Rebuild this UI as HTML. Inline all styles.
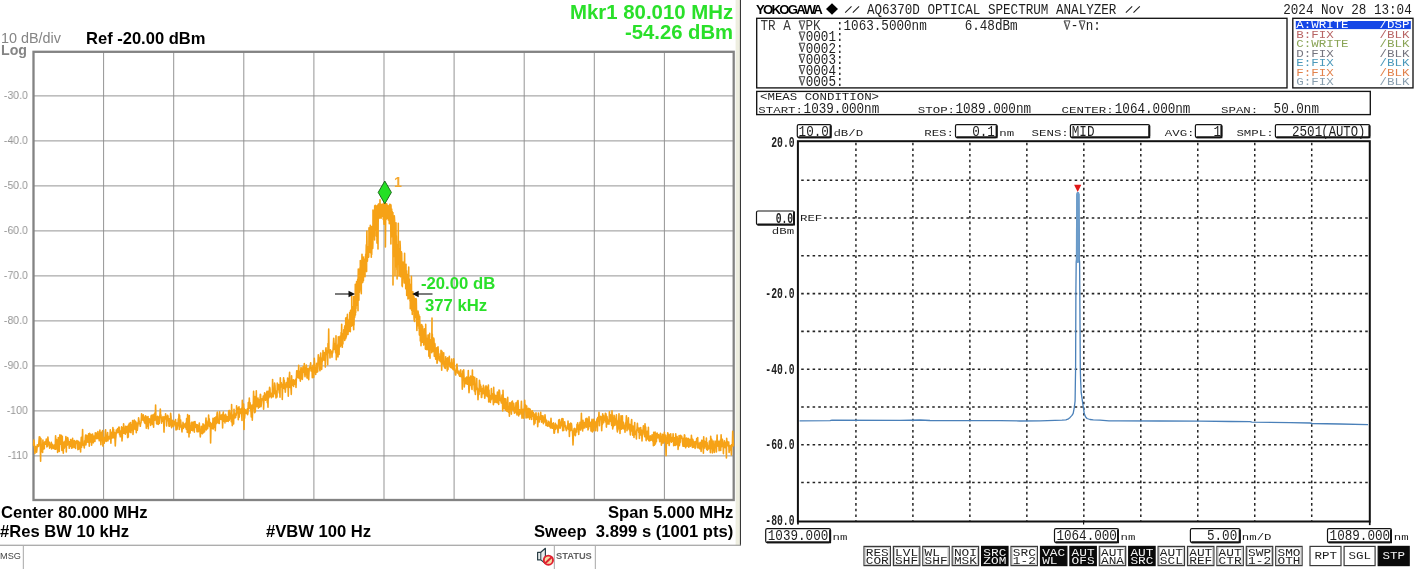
<!DOCTYPE html>
<html><head><meta charset="utf-8"><title>Spectrum analyzers</title>
<style>
html,body{margin:0;padding:0;background:#fff;}
body{width:1418px;height:569px;position:relative;overflow:hidden;font-family:"Liberation Sans",sans-serif;}
svg{position:absolute;left:0;top:0;will-change:transform;}
svg text{font-family:"Liberation Mono",monospace;font-size:10px;}
.t{position:absolute;will-change:transform;white-space:nowrap;line-height:1.15;font-family:"Liberation Sans",sans-serif;}
</style></head><body>
<svg width="1418" height="569" viewBox="0 0 1418 569">
<line x1="103.60" y1="52" x2="103.60" y2="499" stroke="#8e8e8e" stroke-width="0.95"/>
<line x1="34" y1="95.90" x2="733" y2="95.90" stroke="#8e8e8e" stroke-width="0.95"/>
<line x1="173.70" y1="52" x2="173.70" y2="499" stroke="#8e8e8e" stroke-width="0.95"/>
<line x1="34" y1="140.90" x2="733" y2="140.90" stroke="#8e8e8e" stroke-width="0.95"/>
<line x1="243.80" y1="52" x2="243.80" y2="499" stroke="#8e8e8e" stroke-width="0.95"/>
<line x1="34" y1="185.90" x2="733" y2="185.90" stroke="#8e8e8e" stroke-width="0.95"/>
<line x1="313.90" y1="52" x2="313.90" y2="499" stroke="#8e8e8e" stroke-width="0.95"/>
<line x1="34" y1="230.90" x2="733" y2="230.90" stroke="#8e8e8e" stroke-width="0.95"/>
<line x1="384.00" y1="52" x2="384.00" y2="499" stroke="#8e8e8e" stroke-width="0.95"/>
<line x1="34" y1="275.90" x2="733" y2="275.90" stroke="#8e8e8e" stroke-width="0.95"/>
<line x1="454.10" y1="52" x2="454.10" y2="499" stroke="#8e8e8e" stroke-width="0.95"/>
<line x1="34" y1="320.90" x2="733" y2="320.90" stroke="#8e8e8e" stroke-width="0.95"/>
<line x1="524.20" y1="52" x2="524.20" y2="499" stroke="#8e8e8e" stroke-width="0.95"/>
<line x1="34" y1="365.90" x2="733" y2="365.90" stroke="#8e8e8e" stroke-width="0.95"/>
<line x1="594.30" y1="52" x2="594.30" y2="499" stroke="#8e8e8e" stroke-width="0.95"/>
<line x1="34" y1="410.90" x2="733" y2="410.90" stroke="#8e8e8e" stroke-width="0.95"/>
<line x1="664.40" y1="52" x2="664.40" y2="499" stroke="#8e8e8e" stroke-width="0.95"/>
<line x1="34" y1="455.90" x2="733" y2="455.90" stroke="#8e8e8e" stroke-width="0.95"/>
<rect x="33.5" y="51.8" width="700.2" height="448.2" fill="none" stroke="#838383" stroke-width="2.3"/>
<polyline points="33.6,445.3 33.9,440.1 34.3,444.6 34.6,448.7 34.9,453.4 35.3,448.4 35.6,446.5 35.9,450.0 36.3,449.5 36.6,452.1 36.9,449.6 37.3,444.8 37.6,446.3 37.9,446.1 38.3,446.5 38.6,446.0 38.9,442.2 39.3,436.8 39.6,442.6 39.9,437.1 40.3,445.5 40.6,461.2 40.9,438.5 41.3,447.8 41.6,448.5 41.9,445.4 42.3,451.9 42.6,452.5 42.9,440.1 43.3,449.1 43.6,446.8 43.9,446.6 44.3,448.7 44.6,442.0 44.9,442.3 45.3,441.5 45.6,441.7 45.9,444.3 46.3,439.0 46.6,440.5 46.9,447.0 47.3,444.4 47.6,446.3 47.9,437.0 48.3,441.3 48.6,442.5 48.9,444.6 49.3,442.2 49.6,448.3 49.9,444.1 50.3,444.5 50.6,444.6 50.9,447.2 51.3,442.4 51.6,448.9 51.9,446.1 52.3,444.9 52.6,444.4 52.9,446.2 53.3,448.4 53.6,448.0 53.9,445.7 54.3,447.7 54.6,444.7 54.9,449.2 55.3,444.0 55.6,435.7 55.9,449.3 56.3,444.6 56.6,439.5 56.9,443.2 57.3,440.6 57.6,452.4 57.9,445.9 58.3,437.5 58.6,446.0 58.9,442.3 59.3,451.5 59.6,439.6 59.9,434.8 60.3,444.1 60.6,442.4 60.9,442.1 61.3,435.2 61.6,445.5 61.9,450.5 62.3,436.2 62.6,448.5 62.9,441.5 63.3,453.2 63.6,445.5 63.9,443.0 64.3,448.2 64.6,445.9 64.9,441.4 65.3,446.6 65.6,441.8 65.9,436.6 66.3,451.9 66.6,442.4 66.9,441.4 67.3,445.2 67.6,437.6 67.9,438.4 68.3,441.8 68.6,441.7 68.9,444.1 69.3,448.3 69.6,441.9 69.9,445.8 70.3,446.2 70.6,439.5 70.9,444.7 71.3,440.0 71.6,448.1 71.9,445.6 72.3,443.9 72.6,438.4 72.9,447.6 73.3,440.7 73.6,446.6 73.9,443.3 74.3,440.6 74.6,447.5 74.9,446.7 75.3,441.2 75.6,448.4 75.9,442.0 76.3,442.6 76.6,443.5 76.9,440.5 77.3,441.1 77.6,442.3 77.9,449.6 78.3,448.4 78.6,441.2 78.9,449.1 79.3,442.4 79.6,444.0 79.9,446.2 80.3,443.0 80.6,452.0 80.9,443.0 81.3,437.4 81.6,447.3 81.9,440.9 82.3,439.9 82.6,429.6 82.9,445.1 83.3,444.6 83.6,444.7 83.9,445.1 84.3,448.0 84.6,440.7 84.9,444.7 85.3,437.8 85.6,435.0 85.9,445.0 86.3,441.4 86.6,435.2 86.9,442.0 87.3,439.3 87.6,436.2 87.9,442.2 88.3,438.3 88.6,433.7 88.9,435.8 89.3,446.3 89.6,433.4 89.9,440.2 90.3,441.9 90.6,441.5 90.9,434.3 91.3,437.7 91.6,445.1 91.9,442.4 92.3,435.7 92.6,434.1 92.9,442.4 93.3,442.8 93.6,440.0 93.9,436.0 94.3,439.6 94.6,438.6 94.9,441.4 95.3,432.9 95.6,437.9 95.9,436.8 96.3,433.0 96.6,438.6 96.9,438.0 97.3,435.4 97.6,438.5 97.9,431.5 98.3,436.7 98.6,438.5 98.9,437.8 99.3,440.8 99.6,433.8 99.9,430.1 100.3,437.9 100.6,438.0 100.9,444.7 101.3,438.4 101.6,432.2 101.9,438.9 102.3,433.5 102.6,430.5 102.9,446.1 103.3,437.4 103.6,438.6 103.9,437.7 104.3,443.2 104.6,437.2 104.9,440.3 105.3,431.3 105.6,429.8 105.9,441.0 106.3,441.3 106.6,437.5 106.9,436.0 107.3,435.9 107.6,432.6 107.9,441.0 108.3,437.5 108.6,436.7 108.9,436.5 109.3,439.0 109.6,436.9 109.9,437.7 110.3,429.8 110.6,436.7 110.9,443.1 111.3,432.2 111.6,433.3 111.9,438.1 112.3,437.8 112.6,436.6 112.9,427.6 113.3,436.3 113.6,429.3 113.9,438.0 114.3,436.0 114.6,432.5 114.9,437.0 115.3,446.0 115.6,439.5 115.9,436.9 116.3,430.0 116.6,433.4 116.9,429.8 117.3,431.3 117.6,428.6 117.9,430.5 118.3,432.5 118.6,429.2 118.9,427.0 119.3,427.4 119.6,434.7 119.9,433.1 120.3,436.8 120.6,436.4 120.9,430.8 121.3,434.9 121.6,426.9 122.0,441.0 122.3,437.0 122.6,430.4 123.0,427.6 123.3,433.1 123.6,423.8 124.0,428.7 124.3,433.3 124.6,430.6 125.0,429.1 125.3,434.2 125.6,426.2 126.0,432.8 126.3,428.1 126.6,426.7 127.0,431.9 127.3,426.4 127.6,437.6 128.0,427.3 128.3,437.1 128.6,424.7 129.0,431.7 129.3,423.4 129.6,423.7 130.0,429.7 130.3,432.3 130.6,422.6 131.0,432.8 131.3,424.6 131.6,428.4 132.0,429.5 132.3,430.2 132.6,420.5 133.0,434.4 133.3,429.8 133.6,424.8 134.0,422.7 134.3,420.1 134.6,421.6 135.0,429.4 135.3,423.9 135.6,421.3 136.0,423.9 136.3,432.7 136.6,425.2 137.0,423.1 137.3,430.3 137.6,427.3 138.0,425.2 138.3,422.3 138.6,417.9 139.0,420.6 139.3,422.2 139.6,423.5 140.0,424.4 140.3,426.3 140.6,423.6 141.0,422.7 141.3,418.7 141.6,413.9 142.0,419.9 142.3,418.0 142.6,419.9 143.0,420.1 143.3,414.9 143.6,416.7 144.0,420.7 144.3,422.1 144.6,417.5 145.0,423.4 145.3,420.0 145.6,415.8 146.0,420.6 146.3,428.2 146.6,417.1 147.0,425.1 147.3,426.0 147.6,426.3 148.0,416.6 148.3,428.7 148.6,420.6 149.0,418.9 149.3,418.8 149.6,422.4 150.0,420.2 150.3,419.2 150.6,425.4 151.0,416.7 151.3,415.3 151.6,423.2 152.0,422.7 152.3,424.4 152.6,415.1 153.0,424.3 153.3,421.7 153.6,427.1 154.0,414.3 154.3,420.4 154.6,418.3 155.0,412.8 155.3,416.5 155.6,405.0 156.0,420.7 156.3,416.7 156.6,423.6 157.0,424.0 157.3,423.8 157.6,416.4 158.0,419.5 158.3,424.5 158.6,417.5 159.0,416.9 159.3,423.5 159.6,416.2 160.0,415.2 160.3,409.0 160.6,413.9 161.0,416.0 161.3,419.6 161.6,423.2 162.0,420.0 162.3,417.7 162.6,421.1 163.0,416.5 163.3,420.4 163.6,417.9 164.0,432.1 164.3,424.0 164.6,417.0 165.0,416.7 165.3,419.0 165.6,413.9 166.0,418.0 166.3,417.6 166.6,425.9 167.0,419.3 167.3,417.9 167.6,415.4 168.0,416.4 168.3,421.0 168.6,420.2 169.0,426.1 169.3,418.9 169.6,426.1 170.0,422.3 170.3,421.8 170.6,413.2 171.0,416.5 171.3,424.8 171.6,427.6 172.0,422.5 172.3,426.1 172.6,420.2 173.0,421.1 173.3,423.3 173.6,426.5 174.0,423.3 174.3,421.4 174.6,421.6 175.0,424.6 175.3,424.6 175.6,419.5 176.0,429.9 176.3,424.0 176.6,423.1 177.0,429.5 177.3,427.6 177.6,422.9 178.0,425.8 178.3,418.8 178.6,420.7 179.0,414.4 179.3,429.5 179.6,415.6 180.0,427.1 180.3,420.6 180.6,420.0 181.0,424.1 181.3,425.6 181.6,427.9 182.0,432.0 182.3,426.6 182.6,428.7 183.0,422.4 183.3,428.5 183.6,426.0 184.0,423.8 184.3,425.2 184.6,425.0 185.0,426.5 185.3,427.5 185.6,424.0 186.0,422.7 186.3,429.1 186.6,418.6 187.0,423.7 187.3,432.4 187.6,414.6 188.0,423.4 188.3,429.4 188.6,419.2 189.0,437.0 189.3,415.6 189.6,432.3 190.0,433.1 190.3,430.3 190.6,425.6 191.0,428.3 191.3,422.9 191.6,430.3 192.0,422.1 192.3,425.6 192.6,430.8 193.0,422.8 193.3,425.6 193.6,425.8 194.0,421.7 194.3,432.1 194.6,427.4 195.0,421.5 195.3,427.1 195.6,424.0 196.0,424.6 196.3,427.7 196.6,424.9 197.0,431.8 197.3,424.7 197.6,431.6 198.0,427.6 198.3,431.7 198.6,425.2 199.0,426.1 199.3,423.1 199.6,430.3 200.0,431.8 200.3,436.9 200.6,433.4 201.0,433.3 201.3,426.3 201.6,428.9 202.0,427.6 202.3,433.8 202.6,432.0 203.0,423.9 203.3,424.3 203.6,432.6 204.0,428.2 204.3,426.2 204.6,431.6 205.0,424.9 205.3,424.7 205.6,423.6 206.0,418.1 206.3,430.0 206.6,420.9 207.0,423.7 207.3,422.9 207.6,428.7 208.0,425.6 208.3,425.2 208.6,415.0 209.0,424.7 209.3,418.9 209.6,426.5 210.0,426.7 210.3,422.6 210.6,443.0 211.0,426.5 211.3,426.8 211.6,425.4 212.0,423.2 212.3,428.6 212.6,428.7 213.0,418.3 213.3,428.9 213.6,425.5 214.0,427.2 214.3,425.1 214.6,417.9 215.0,418.0 215.3,430.8 215.6,423.7 216.0,416.7 216.3,423.7 216.6,421.2 217.0,414.1 217.3,412.1 217.6,415.0 218.0,423.0 218.3,421.0 218.6,421.1 219.0,422.2 219.3,423.5 219.6,411.8 220.0,419.3 220.3,417.5 220.6,415.4 221.0,417.8 221.3,419.5 221.6,418.9 222.0,414.5 222.3,417.5 222.6,427.9 223.0,414.6 223.3,412.1 223.6,421.3 224.0,421.3 224.3,421.2 224.6,415.4 225.0,422.9 225.3,416.0 225.6,414.3 226.0,416.1 226.3,417.1 226.6,421.4 227.0,420.5 227.3,416.8 227.6,420.9 228.0,417.9 228.3,421.4 228.6,411.8 229.0,410.6 229.3,420.1 229.6,410.5 230.0,415.3 230.3,415.6 230.6,418.7 231.0,414.3 231.3,421.8 231.6,404.6 232.0,419.2 232.3,425.6 232.6,415.8 233.0,415.1 233.3,419.0 233.6,424.0 234.0,409.4 234.3,415.2 234.6,413.7 235.0,417.9 235.3,415.3 235.6,417.5 236.0,412.7 236.3,415.3 236.6,405.7 237.0,410.3 237.3,412.7 237.6,413.1 238.0,408.1 238.3,419.7 238.6,413.8 239.0,406.7 239.3,417.3 239.6,408.8 240.0,413.6 240.3,411.4 240.6,413.0 241.0,412.4 241.3,408.6 241.6,412.0 242.0,420.5 242.3,400.4 242.6,409.9 243.0,412.8 243.3,405.8 243.6,404.0 244.0,429.4 244.3,408.3 244.6,418.3 245.0,412.7 245.3,409.9 245.6,411.5 246.0,411.4 246.3,413.5 246.6,411.7 247.0,409.8 247.3,408.9 247.6,414.7 248.0,412.7 248.3,402.5 248.6,404.3 249.0,408.6 249.3,398.0 249.6,407.2 250.0,402.6 250.3,404.8 250.6,409.0 251.0,411.4 251.3,417.0 251.6,416.0 252.0,405.1 252.3,420.3 252.6,410.7 253.0,407.6 253.3,403.0 253.6,391.3 254.0,404.5 254.3,405.7 254.6,412.7 255.0,396.5 255.3,411.9 255.6,402.8 256.0,407.1 256.3,390.8 256.6,404.2 257.0,402.3 257.3,406.3 257.6,403.1 258.0,398.0 258.3,408.1 258.6,399.6 259.0,404.3 259.3,407.2 259.6,406.9 260.0,401.1 260.3,394.2 260.6,394.7 261.0,406.6 261.3,404.6 261.6,401.0 262.0,398.8 262.3,398.9 262.6,399.6 263.0,398.3 263.3,396.0 263.6,409.3 264.0,399.0 264.3,396.8 264.6,392.7 265.0,394.7 265.3,398.9 265.6,400.2 266.0,396.1 266.3,396.5 266.6,393.4 267.0,391.2 267.3,402.8 267.6,396.7 268.0,407.3 268.3,391.2 268.6,395.0 269.0,397.6 269.3,392.1 269.6,387.2 270.0,389.0 270.3,396.2 270.6,394.9 271.0,393.2 271.3,397.8 271.6,397.4 272.0,394.7 272.3,394.2 272.6,379.5 273.0,395.4 273.3,396.7 273.6,392.5 274.0,393.9 274.3,391.5 274.6,383.0 275.0,385.6 275.3,393.4 275.6,390.9 276.0,398.0 276.3,391.6 276.6,394.6 277.0,397.0 277.3,383.1 277.6,385.1 278.0,389.4 278.3,388.8 278.6,384.6 279.0,390.2 279.3,393.0 279.6,385.4 280.0,397.3 280.3,377.8 280.6,386.4 281.0,386.8 281.3,382.9 281.6,386.8 282.0,384.4 282.3,399.5 282.6,388.0 283.0,388.6 283.3,382.7 283.6,377.7 284.0,384.2 284.3,380.3 284.6,388.9 285.0,384.1 285.3,392.3 285.6,388.1 286.0,387.8 286.3,382.6 286.6,385.3 287.0,386.1 287.3,386.8 287.6,378.0 288.0,385.3 288.3,396.3 288.6,380.5 289.0,379.9 289.3,377.5 289.6,372.3 290.0,387.5 290.3,380.9 290.6,382.3 291.0,388.8 291.3,394.4 291.6,375.7 292.0,385.5 292.3,382.2 292.6,380.9 293.0,380.5 293.3,379.8 293.6,386.4 294.0,381.9 294.3,380.5 294.6,384.2 295.0,383.2 295.3,381.5 295.6,379.4 296.0,387.5 296.3,380.2 296.7,370.8 297.0,371.9 297.3,373.5 297.7,370.8 298.0,377.7 298.3,377.7 298.7,365.4 299.0,376.4 299.3,378.4 299.7,376.4 300.0,371.2 300.3,381.1 300.7,370.9 301.0,367.6 301.3,368.4 301.7,373.7 302.0,379.2 302.3,379.4 302.7,374.6 303.0,366.9 303.3,369.6 303.7,369.2 304.0,372.2 304.3,363.5 304.7,373.3 305.0,376.8 305.3,370.8 305.7,374.8 306.0,367.8 306.3,365.1 306.7,368.6 307.0,378.0 307.3,377.5 307.7,368.9 308.0,378.1 308.3,369.1 308.7,379.6 309.0,373.5 309.3,367.7 309.7,368.0 310.0,366.8 310.3,365.4 310.7,362.7 311.0,371.0 311.3,370.2 311.7,369.5 312.0,367.3 312.3,377.7 312.7,367.5 313.0,365.4 313.3,376.8 313.7,377.3 314.0,370.5 314.3,358.2 314.7,364.5 315.0,372.5 315.3,367.6 315.7,374.4 316.0,368.3 316.3,369.9 316.7,363.3 317.0,372.1 317.3,365.3 317.7,371.8 318.0,361.8 318.3,354.7 318.7,357.4 319.0,358.9 319.3,358.1 319.7,368.6 320.0,370.8 320.3,364.1 320.7,353.0 321.0,360.2 321.3,358.1 321.7,369.4 322.0,362.1 322.3,361.3 322.7,358.5 323.0,350.6 323.3,355.2 323.7,352.5 324.0,360.2 324.3,356.5 324.7,352.5 325.0,353.7 325.3,367.1 325.7,349.6 326.0,347.9 326.3,353.0 326.7,350.7 327.0,351.9 327.3,355.6 327.7,364.8 328.0,343.5 328.3,352.8 328.7,329.0 329.0,352.6 329.3,351.5 329.7,350.8 330.0,358.0 330.3,349.7 330.7,352.0 331.0,352.0 331.3,352.0 331.7,351.3 332.0,357.3 332.3,351.0 332.7,352.8 333.0,350.7 333.3,345.9 333.7,338.4 334.0,342.2 334.3,349.2 334.7,346.4 335.0,343.9 335.3,350.1 335.7,352.8 336.0,335.8 336.3,359.8 336.7,345.7 337.0,347.2 337.3,349.1 337.7,346.0 338.0,343.9 338.0,356.9 338.3,336.8 338.3,344.0 338.6,347.6 338.7,339.4 338.9,348.8 339.0,342.9 339.1,354.4 339.3,337.1 339.4,341.8 339.7,342.6 339.7,343.3 340.0,336.2 340.0,343.8 340.3,338.2 340.3,346.6 340.6,343.4 340.7,345.2 340.9,344.5 341.0,338.0 341.1,332.6 341.3,341.0 341.4,340.1 341.7,324.2 341.7,335.8 342.0,333.5 342.0,345.0 342.3,347.3 342.3,335.8 342.6,337.8 342.7,334.9 342.9,344.0 343.0,339.1 343.1,335.7 343.3,333.8 343.4,336.8 343.7,329.8 343.7,335.9 344.0,329.6 344.0,335.1 344.3,331.7 344.3,338.4 344.6,327.0 344.7,340.4 344.9,325.7 345.0,336.5 345.1,325.8 345.3,328.2 345.4,336.4 345.7,338.7 345.7,318.1 346.0,330.2 346.0,320.1 346.3,337.1 346.3,317.6 346.6,321.8 346.7,320.2 346.9,334.8 347.0,327.1 347.1,326.8 347.3,328.0 347.4,314.4 347.7,325.9 347.7,333.5 348.0,324.0 348.0,334.5 348.3,326.6 348.3,330.7 348.6,322.9 348.7,325.0 348.9,331.5 349.0,326.5 349.1,321.2 349.3,319.7 349.4,319.1 349.7,328.8 349.7,312.5 350.0,317.8 350.0,322.0 350.3,319.3 350.3,331.7 350.6,310.3 350.7,318.7 350.9,325.2 351.0,311.6 351.1,318.4 351.3,319.9 351.4,326.2 351.7,314.3 351.7,296.0 352.0,321.3 352.0,313.9 352.3,309.9 352.3,306.5 352.6,325.4 352.7,313.0 352.9,321.3 353.0,314.5 353.1,313.6 353.3,318.4 353.4,323.1 353.7,329.8 353.7,296.5 354.0,310.2 354.0,325.3 354.3,309.1 354.3,298.0 354.6,316.9 354.7,317.3 354.9,314.3 355.0,315.6 355.1,312.1 355.3,284.3 355.4,314.9 355.7,288.8 355.7,312.5 356.0,293.9 356.0,308.7 356.3,298.8 356.3,289.9 356.6,281.6 356.7,294.5 356.9,297.9 357.0,305.3 357.1,296.2 357.3,300.3 357.4,282.2 357.7,286.9 357.7,279.2 358.0,310.8 358.0,289.3 358.3,269.1 358.3,278.4 358.6,293.5 358.7,291.4 358.9,300.2 359.0,273.6 359.1,271.5 359.3,269.4 359.4,292.4 359.7,289.2 359.7,277.6 360.0,267.8 360.0,273.1 360.3,276.8 360.3,260.6 360.6,272.5 360.7,277.4 360.9,288.3 361.0,288.7 361.1,274.2 361.3,293.7 361.4,265.9 361.7,278.8 361.7,270.5 362.0,254.2 362.0,263.8 362.3,276.9 362.3,262.8 362.6,267.1 362.7,282.6 362.9,271.6 363.0,266.3 363.1,264.1 363.3,257.1 363.4,280.8 363.7,260.1 363.7,268.6 364.0,269.2 364.0,259.4 364.3,260.0 364.3,259.4 364.6,260.2 364.7,266.9 364.9,260.2 365.0,276.7 365.1,260.5 365.3,261.8 365.4,256.3 365.7,256.8 365.7,254.3 366.0,258.6 366.0,256.8 366.3,244.7 366.3,247.4 366.6,271.6 366.7,245.7 366.9,231.1 367.0,241.0 367.1,254.0 367.3,259.0 367.4,261.3 367.7,249.7 367.7,250.0 368.0,246.7 368.0,255.3 368.3,249.4 368.3,253.3 368.6,254.0 368.7,257.1 368.9,244.5 369.0,227.9 369.1,243.2 369.3,243.7 369.4,242.1 369.7,242.7 369.7,242.5 370.0,250.7 370.0,237.6 370.3,252.6 370.3,225.4 370.6,238.1 370.7,248.6 370.9,239.1 371.0,238.7 371.1,236.4 371.3,257.2 371.4,226.5 371.7,252.1 371.7,254.4 372.0,240.4 372.0,244.8 372.3,232.0 372.3,227.8 372.6,226.2 372.7,248.5 372.9,242.8 373.0,210.0 373.1,224.0 373.3,229.3 373.4,217.5 373.7,211.0 373.7,213.8 374.0,222.2 374.0,213.6 374.3,212.4 374.3,225.4 374.6,240.0 374.7,205.8 374.9,230.7 375.0,230.2 375.1,212.7 375.3,205.3 375.4,225.8 375.7,221.6 375.7,229.0 376.0,212.6 376.0,209.1 376.3,212.7 376.3,236.1 376.6,230.0 376.7,214.6 376.9,205.9 377.0,243.1 377.1,217.9 377.3,214.6 377.4,209.5 377.7,205.4 377.7,213.5 378.0,207.0 378.0,249.0 378.3,204.3 378.3,204.6 378.6,218.8 378.7,208.4 378.9,203.9 379.0,208.8 379.1,209.4 379.3,204.2 379.4,204.8 379.7,205.2 379.7,217.9 380.0,199.7 380.0,206.6 380.3,205.6 380.3,205.6 380.6,212.5 380.7,204.1 380.9,209.0 381.0,204.8 381.1,218.3 381.3,208.5 381.4,213.7 381.7,216.6 381.7,204.6 382.0,213.4 382.0,207.2 382.3,206.1 382.3,209.8 382.6,205.3 382.7,212.7 382.9,208.0 383.0,210.2 383.1,203.8 383.3,219.6 383.4,203.5 383.7,212.8 383.7,214.1 384.0,224.2 384.0,210.3 384.3,211.2 384.3,204.9 384.6,212.1 384.7,209.0 384.9,208.0 385.0,206.1 385.1,204.1 385.3,203.7 385.4,247.0 385.7,215.5 385.7,204.6 386.0,203.8 386.0,215.7 386.3,204.5 386.3,219.3 386.6,208.4 386.7,203.8 386.9,214.1 387.0,218.2 387.1,204.9 387.3,217.9 387.4,206.9 387.7,215.8 387.7,206.0 388.0,205.8 388.0,210.9 388.3,214.4 388.3,219.9 388.6,217.6 388.7,217.3 388.9,208.1 389.0,205.7 389.1,210.1 389.3,223.8 389.4,207.6 389.7,204.2 389.7,209.4 390.0,217.2 390.0,222.7 390.3,215.0 390.3,215.5 390.6,211.9 390.7,204.6 390.9,244.0 391.0,205.6 391.1,216.5 391.3,217.2 391.4,237.0 391.7,209.1 391.7,228.2 392.0,214.4 392.0,211.3 392.3,212.3 392.3,224.2 392.6,212.9 392.7,228.1 392.9,212.6 393.0,285.0 393.1,219.9 393.3,243.8 393.4,228.8 393.7,224.9 393.7,244.5 394.0,255.5 394.0,256.4 394.3,241.6 394.3,215.8 394.6,220.2 394.7,248.2 394.9,250.3 395.0,275.8 395.1,260.4 395.3,258.2 395.4,259.4 395.7,253.7 395.7,237.5 396.0,224.8 396.0,222.9 396.3,266.8 396.3,235.9 396.6,262.8 396.7,248.4 396.9,269.8 397.0,254.0 397.1,279.0 397.3,244.7 397.4,253.1 397.7,263.4 397.7,248.2 398.0,256.9 398.0,263.7 398.3,223.2 398.3,261.0 398.6,255.4 398.7,253.6 398.9,267.5 399.0,276.0 399.1,259.1 399.3,248.8 399.4,263.7 399.7,270.9 399.7,256.8 400.0,267.8 400.0,241.3 400.3,247.9 400.3,255.2 400.6,276.7 400.7,263.6 400.9,268.8 401.0,263.6 401.1,272.4 401.3,271.3 401.4,251.7 401.7,267.4 401.7,253.0 402.0,275.5 402.0,285.8 402.3,265.8 402.3,286.6 402.6,279.5 402.7,269.5 402.9,272.2 403.0,262.0 403.1,267.6 403.3,271.8 403.4,271.6 403.7,278.3 403.7,277.1 404.0,272.1 404.0,264.2 404.3,282.9 404.3,272.4 404.6,253.3 404.7,265.6 404.9,273.8 405.0,272.2 405.1,268.4 405.3,267.7 405.4,276.0 405.7,285.5 405.7,288.5 406.0,264.2 406.0,272.4 406.3,289.5 406.3,277.2 406.6,270.8 406.7,295.5 406.9,277.1 407.0,278.9 407.1,278.5 407.3,293.0 407.4,292.2 407.7,274.5 407.7,277.3 408.0,282.1 408.0,299.0 408.3,286.1 408.3,298.6 408.6,289.4 408.7,267.1 408.9,295.8 409.0,292.1 409.1,287.4 409.3,279.0 409.4,292.7 409.7,298.4 409.7,291.9 410.0,286.6 410.0,301.1 410.3,284.5 410.3,308.7 410.6,296.9 410.7,298.4 410.9,285.3 411.0,290.1 411.1,302.7 411.3,292.1 411.4,276.4 411.7,310.6 411.7,295.1 412.0,311.0 412.0,298.2 412.3,314.4 412.3,305.4 412.6,311.4 412.7,304.1 412.9,291.9 413.0,300.4 413.1,302.4 413.3,294.9 413.4,309.3 413.7,296.4 413.7,304.0 414.0,297.0 414.0,317.1 414.3,321.0 414.3,318.5 414.6,321.5 414.7,307.5 414.9,307.1 415.0,311.1 415.1,301.8 415.3,312.3 415.4,298.9 415.7,317.5 415.7,317.5 416.0,298.6 416.0,308.4 416.3,299.5 416.3,299.9 416.6,314.3 416.7,322.7 416.9,330.4 417.0,325.8 417.1,319.9 417.3,319.0 417.4,323.6 417.7,325.8 417.7,320.8 418.0,324.3 418.0,311.0 418.3,313.6 418.3,318.6 418.6,316.2 418.7,318.2 418.9,314.8 419.0,328.7 419.1,327.1 419.3,330.2 419.4,335.1 419.7,316.5 419.7,320.5 420.0,324.4 420.0,328.8 420.3,331.8 420.3,340.9 420.6,326.9 420.7,329.3 420.9,325.7 421.0,345.7 421.1,328.8 421.3,325.1 421.4,337.1 421.7,334.2 421.7,324.6 422.0,332.6 422.0,342.4 422.3,327.4 422.3,337.7 422.6,326.3 422.7,334.5 422.9,340.2 423.0,342.1 423.1,337.3 423.3,333.1 423.4,336.0 423.7,331.6 423.7,345.1 424.0,332.5 424.0,342.0 424.3,328.9 424.3,336.7 424.6,331.0 424.7,341.3 424.9,336.6 425.0,341.1 425.1,334.5 425.3,339.2 425.4,349.1 425.7,333.7 425.7,324.4 426.0,344.4 426.0,334.7 426.3,340.6 426.3,349.5 426.6,338.5 426.7,347.4 426.9,338.7 427.0,349.6 427.1,348.8 427.3,338.9 427.4,341.5 427.7,338.1 427.7,344.8 428.0,349.5 428.0,335.1 428.3,347.7 428.3,337.4 428.6,339.3 428.7,335.1 428.9,356.3 429.0,345.4 429.1,345.2 429.3,340.9 429.4,353.0 429.7,333.4 429.7,345.4 430.0,358.3 430.0,342.7 430.3,345.4 430.3,349.5 430.6,339.9 430.7,345.4 430.9,349.8 431.0,345.8 431.1,346.9 431.3,343.3 431.4,347.3 431.7,346.5 431.7,352.7 432.0,318.0 432.0,346.8 432.3,334.1 432.7,350.2 433.0,351.5 433.3,343.9 433.7,338.1 434.0,339.4 434.3,356.2 434.7,343.3 435.0,344.4 435.3,354.4 435.7,359.3 436.0,351.9 436.3,354.7 436.7,347.9 437.0,363.3 437.3,362.2 437.7,354.0 438.0,346.8 438.3,351.2 438.7,358.6 439.0,353.7 439.3,360.5 439.7,359.6 440.0,357.3 440.3,361.6 440.7,360.2 441.0,350.3 441.3,356.2 441.7,370.3 442.0,351.4 442.3,357.8 442.7,364.0 443.0,357.5 443.3,356.7 443.7,352.7 444.0,364.9 444.3,366.6 444.7,367.8 445.0,361.3 445.3,368.5 445.7,356.8 446.0,362.9 446.3,358.5 446.7,363.4 447.0,366.4 447.3,370.9 447.7,357.8 448.0,369.5 448.3,360.4 448.7,359.2 449.0,364.1 449.3,356.4 449.7,364.3 450.0,366.8 450.3,362.7 450.7,367.4 451.0,365.1 451.3,365.8 451.7,359.0 452.0,368.3 452.3,363.1 452.7,364.9 453.0,369.4 453.3,369.7 453.7,358.8 454.0,360.7 454.3,367.6 454.7,370.8 455.0,371.4 455.3,374.3 455.7,375.0 456.0,372.7 456.3,370.1 456.7,364.7 457.0,364.2 457.3,368.5 457.7,373.0 458.0,373.2 458.3,371.0 458.7,372.3 459.0,374.9 459.3,374.0 459.7,376.3 460.0,374.6 460.3,370.5 460.7,369.9 461.0,376.7 461.3,376.7 461.7,374.1 462.0,374.2 462.3,389.3 462.7,371.0 463.0,374.0 463.3,376.8 463.7,369.8 464.0,376.8 464.3,386.9 464.7,381.6 465.0,381.1 465.3,381.4 465.7,378.1 466.0,383.6 466.3,379.4 466.7,377.0 467.0,379.1 467.3,384.1 467.7,380.6 468.0,383.7 468.3,370.5 468.7,385.9 469.0,392.6 469.3,388.8 469.7,379.1 470.0,377.2 470.3,382.2 470.7,376.1 471.0,385.4 471.4,381.7 471.7,387.2 472.0,389.4 472.4,370.0 472.7,384.8 473.0,380.7 473.4,376.9 473.7,382.6 474.0,383.5 474.4,390.9 474.7,377.3 475.0,390.8 475.4,394.4 475.7,388.4 476.0,388.4 476.4,385.6 476.7,378.5 477.0,389.6 477.4,388.1 477.7,390.0 478.0,399.6 478.4,390.5 478.7,389.7 479.0,394.4 479.4,380.2 479.7,382.3 480.0,386.3 480.4,384.7 480.7,391.5 481.0,386.4 481.4,397.5 481.7,397.5 482.0,392.3 482.4,388.6 482.7,393.3 483.0,393.6 483.4,385.3 483.7,390.9 484.0,392.7 484.4,390.8 484.7,398.3 485.0,396.8 485.4,386.8 485.7,392.1 486.0,385.9 486.4,395.0 486.7,386.7 487.0,396.3 487.4,394.0 487.7,396.6 488.0,391.1 488.4,385.1 488.7,401.9 489.0,390.0 489.4,400.8 489.7,395.2 490.0,396.8 490.4,402.5 490.7,396.4 491.0,400.0 491.4,388.5 491.7,398.9 492.0,393.5 492.4,395.0 492.7,396.4 493.0,397.8 493.4,404.8 493.7,387.4 494.0,397.6 494.4,394.1 494.7,402.4 495.0,396.1 495.4,399.6 495.7,395.6 496.0,400.2 496.4,402.5 496.7,396.7 497.0,397.5 497.4,392.1 497.7,400.4 498.0,403.1 498.4,394.8 498.7,404.5 499.0,390.1 499.4,390.3 499.7,393.3 500.0,396.0 500.4,400.8 500.7,399.6 501.0,401.0 501.4,403.0 501.7,399.3 502.0,395.1 502.4,396.2 502.7,411.0 503.0,390.3 503.4,402.8 503.7,408.5 504.0,404.2 504.4,398.6 504.7,402.1 505.0,407.9 505.4,410.1 505.7,398.7 506.0,406.0 506.4,405.9 506.7,410.0 507.0,411.3 507.4,403.7 507.7,397.3 508.0,406.6 508.4,412.3 508.7,407.4 509.0,407.2 509.4,416.3 509.7,402.7 510.0,410.2 510.4,403.1 510.7,407.2 511.0,408.3 511.4,414.1 511.7,401.8 512.0,405.0 512.4,401.1 512.7,409.5 513.0,405.1 513.4,410.6 513.7,403.4 514.0,406.0 514.4,413.1 514.7,407.5 515.0,412.0 515.4,411.7 515.7,408.5 516.0,402.9 516.4,413.1 516.7,410.9 517.0,414.9 517.4,401.1 517.7,403.4 518.0,400.5 518.4,406.2 518.7,415.9 519.0,412.9 519.4,409.8 519.7,412.2 520.0,414.3 520.4,409.9 520.7,412.6 521.0,411.7 521.4,401.4 521.7,410.0 522.0,418.3 522.4,409.3 522.7,413.1 523.0,409.2 523.4,409.9 523.7,418.1 524.0,411.7 524.4,407.7 524.7,400.3 525.0,410.3 525.4,404.8 525.7,405.6 526.0,417.9 526.4,416.8 526.7,406.0 527.0,417.5 527.4,416.8 527.7,410.5 528.0,417.6 528.4,408.4 528.7,409.6 529.0,408.6 529.4,411.3 529.7,419.2 530.0,409.0 530.4,410.7 530.7,410.8 531.0,417.1 531.4,414.9 531.7,419.5 532.0,412.7 532.4,410.7 532.7,414.2 533.0,416.2 533.4,412.8 533.7,417.0 534.0,424.6 534.4,414.3 534.7,417.2 535.0,423.3 535.4,414.0 535.7,418.7 536.0,412.8 536.4,419.2 536.7,419.5 537.0,416.8 537.4,418.5 537.7,426.6 538.0,422.2 538.4,413.0 538.7,419.1 539.0,420.0 539.4,421.9 539.7,417.6 540.0,416.9 540.4,417.5 540.7,412.4 541.0,419.5 541.4,417.7 541.7,422.3 542.0,415.9 542.4,418.5 542.7,416.3 543.0,415.9 543.4,423.6 543.7,419.2 544.0,422.4 544.4,417.2 544.7,421.4 545.0,414.7 545.4,419.3 545.7,419.3 546.0,425.5 546.4,422.5 546.7,420.5 547.0,425.4 547.4,423.1 547.7,426.3 548.0,426.2 548.4,423.3 548.7,421.3 549.0,425.0 549.4,422.2 549.7,426.5 550.0,424.7 550.4,428.0 550.7,422.8 551.0,418.4 551.4,424.4 551.7,424.1 552.0,428.1 552.4,423.9 552.7,424.8 553.0,428.3 553.4,422.8 553.7,426.2 554.0,433.3 554.4,433.0 554.7,429.9 555.0,427.3 555.4,423.3 555.7,429.1 556.0,427.3 556.4,428.1 556.7,425.1 557.0,426.5 557.4,426.1 557.7,428.2 558.0,432.7 558.4,427.8 558.7,420.0 559.0,422.5 559.4,419.6 559.7,423.0 560.0,428.2 560.4,427.7 560.7,422.1 561.0,425.9 561.4,421.9 561.7,419.3 562.0,418.5 562.4,421.1 562.7,430.7 563.0,418.9 563.4,429.5 563.7,430.5 564.0,423.5 564.4,426.0 564.7,421.8 565.0,425.3 565.4,426.9 565.7,427.1 566.0,429.3 566.4,430.6 566.7,428.4 567.0,428.9 567.4,425.2 567.7,428.0 568.0,421.1 568.4,429.2 568.7,428.4 569.0,424.1 569.4,436.4 569.7,424.1 570.0,424.5 570.4,430.7 570.7,423.0 571.0,426.5 571.4,423.6 571.7,425.8 572.0,430.3 572.4,431.0 572.7,435.3 573.0,445.0 573.4,435.3 573.7,433.1 574.0,428.8 574.4,434.7 574.7,428.4 575.0,428.6 575.4,435.7 575.7,432.7 576.0,430.5 576.4,431.8 576.7,432.0 577.0,424.2 577.4,428.9 577.7,422.8 578.0,428.0 578.4,426.0 578.7,434.4 579.0,430.4 579.4,424.7 579.7,428.5 580.0,422.3 580.4,428.2 580.7,430.0 581.0,427.3 581.4,413.3 581.7,425.1 582.0,428.0 582.4,426.8 582.7,430.9 583.0,420.3 583.4,428.2 583.7,422.2 584.0,426.0 584.4,427.4 584.7,428.0 585.0,422.4 585.4,425.6 585.7,419.4 586.0,418.5 586.4,427.2 586.7,424.4 587.0,418.2 587.4,420.8 587.7,419.8 588.0,429.9 588.4,428.5 588.7,428.1 589.0,416.7 589.4,423.5 589.7,426.2 590.0,425.7 590.4,425.5 590.7,422.4 591.0,430.9 591.4,429.8 591.7,422.6 592.0,419.2 592.4,431.9 592.7,421.1 593.0,428.2 593.4,430.7 593.7,419.3 594.0,419.7 594.4,420.8 594.7,424.7 595.0,423.6 595.4,430.8 595.7,424.3 596.0,421.7 596.4,426.7 596.7,421.3 597.0,418.8 597.4,431.0 597.7,417.6 598.0,419.4 598.4,421.3 598.7,417.1 599.0,412.4 599.4,425.7 599.7,417.7 600.0,419.2 600.4,419.1 600.7,416.3 601.0,416.6 601.4,421.8 601.7,430.8 602.0,423.9 602.4,424.4 602.7,413.7 603.0,420.1 603.4,415.3 603.7,422.8 604.0,419.0 604.4,420.3 604.7,419.4 605.0,417.6 605.4,413.4 605.7,422.0 606.0,413.7 606.4,427.1 606.7,418.5 607.0,416.5 607.4,420.8 607.7,424.0 608.0,420.8 608.4,421.0 608.7,419.9 609.0,424.2 609.4,411.7 609.7,421.5 610.0,415.7 610.4,414.9 610.7,420.6 611.0,419.3 611.4,422.8 611.7,425.4 612.0,410.7 612.4,420.3 612.7,428.9 613.0,424.8 613.4,426.7 613.7,421.7 614.0,415.3 614.4,416.4 614.7,424.2 615.0,425.2 615.4,419.3 615.7,420.2 616.0,423.6 616.4,414.9 616.7,420.5 617.0,428.7 617.4,432.0 617.7,422.8 618.0,430.0 618.4,420.3 618.7,420.5 619.0,413.7 619.4,428.0 619.7,421.4 620.0,433.4 620.4,424.3 620.7,425.3 621.0,415.8 621.4,429.2 621.7,422.4 622.0,423.3 622.4,415.8 622.7,428.0 623.0,428.6 623.4,422.3 623.7,425.8 624.0,426.4 624.4,429.4 624.7,425.7 625.0,432.2 625.4,424.3 625.7,422.9 626.0,423.2 626.4,415.7 626.7,421.8 627.0,430.6 627.4,427.6 627.7,422.7 628.0,427.4 628.4,417.9 628.7,425.6 629.0,429.2 629.4,429.8 629.7,424.2 630.0,430.6 630.4,435.0 630.7,424.8 631.0,430.9 631.4,421.3 631.7,419.5 632.0,431.1 632.4,428.7 632.7,435.3 633.0,426.1 633.4,426.5 633.7,432.7 634.0,437.4 634.4,427.9 634.7,422.6 635.0,434.5 635.4,432.3 635.7,432.9 636.0,431.4 636.4,439.0 636.7,431.5 637.0,429.2 637.4,423.3 637.7,429.1 638.0,428.6 638.4,430.4 638.7,432.3 639.0,428.1 639.4,438.5 639.7,428.2 640.0,429.3 640.4,433.3 640.7,427.6 641.0,435.0 641.4,435.4 641.7,430.4 642.0,440.9 642.4,433.9 642.7,434.7 643.0,430.7 643.4,425.7 643.7,432.0 644.0,432.5 644.4,432.1 644.7,436.7 645.0,423.7 645.4,429.8 645.7,427.0 646.1,440.6 646.4,431.9 646.7,434.1 647.1,431.2 647.4,439.0 647.7,433.7 648.1,436.3 648.4,427.3 648.7,440.6 649.1,438.0 649.4,438.7 649.7,440.9 650.1,436.0 650.4,435.9 650.7,440.2 651.1,440.0 651.4,437.0 651.7,437.7 652.1,434.9 652.4,440.1 652.7,441.0 653.1,438.4 653.4,445.7 653.7,432.2 654.1,437.4 654.4,445.3 654.7,436.9 655.1,432.0 655.4,444.0 655.7,440.6 656.1,433.8 656.4,441.6 656.7,434.4 657.1,433.1 657.4,437.9 657.7,436.8 658.1,434.5 658.4,437.1 658.7,434.8 659.1,439.0 659.4,438.6 659.7,441.8 660.1,437.0 660.4,433.4 660.7,433.7 661.1,437.7 661.4,445.1 661.7,442.4 662.1,436.3 662.4,442.8 662.7,434.4 663.1,443.1 663.4,437.5 663.7,442.2 664.1,441.4 664.4,432.2 664.7,440.6 665.1,434.9 665.4,438.9 665.7,443.4 666.1,455.6 666.4,442.0 666.7,439.6 667.1,435.3 667.4,443.5 667.7,432.7 668.1,436.0 668.4,440.8 668.7,434.5 669.1,445.5 669.4,443.7 669.7,437.3 670.1,437.1 670.4,434.1 670.7,433.8 671.1,441.4 671.4,442.2 671.7,441.0 672.1,440.6 672.4,437.3 672.7,441.1 673.1,433.7 673.4,439.8 673.7,445.7 674.1,445.0 674.4,437.9 674.7,438.4 675.1,445.4 675.4,445.3 675.7,433.9 676.1,438.1 676.4,440.7 676.7,444.7 677.1,436.5 677.4,442.4 677.7,438.6 678.1,449.4 678.4,442.7 678.7,440.9 679.1,435.5 679.4,445.6 679.7,443.2 680.1,436.6 680.4,442.2 680.7,435.3 681.1,437.8 681.4,436.5 681.7,436.3 682.1,438.6 682.4,438.4 682.7,444.2 683.1,446.3 683.4,441.7 683.7,438.1 684.1,446.3 684.4,434.9 684.7,435.1 685.1,446.1 685.4,446.6 685.7,447.8 686.1,443.1 686.4,438.0 686.7,441.9 687.1,446.2 687.4,440.8 687.7,441.1 688.1,438.3 688.4,439.2 688.7,447.3 689.1,445.7 689.4,439.3 689.7,439.6 690.1,441.7 690.4,446.1 690.7,439.2 691.1,443.2 691.4,435.3 691.7,438.9 692.1,445.6 692.4,447.5 692.7,439.3 693.1,440.8 693.4,447.1 693.7,442.4 694.1,441.7 694.4,446.0 694.7,444.7 695.1,448.4 695.4,447.1 695.7,441.6 696.1,443.4 696.4,443.7 696.7,438.5 697.1,440.0 697.4,447.8 697.7,437.6 698.1,447.9 698.4,445.1 698.7,443.4 699.1,446.1 699.4,445.8 699.7,448.8 700.1,442.3 700.4,443.0 700.7,442.9 701.1,451.5 701.4,447.7 701.7,440.3 702.1,440.2 702.4,441.1 702.7,444.1 703.1,447.4 703.4,453.2 703.7,436.7 704.1,448.3 704.4,445.8 704.7,441.3 705.1,443.5 705.4,442.0 705.7,444.2 706.1,448.2 706.4,438.1 706.7,449.4 707.1,442.6 707.4,450.1 707.7,445.8 708.1,449.1 708.4,446.6 708.7,448.7 709.1,444.6 709.4,441.0 709.7,447.0 710.1,447.1 710.4,452.6 710.7,436.3 711.1,443.6 711.4,448.7 711.7,439.4 712.1,443.5 712.4,452.9 712.7,450.2 713.1,441.0 713.4,450.1 713.7,449.2 714.1,447.5 714.4,452.5 714.7,445.6 715.1,441.1 715.4,442.4 715.7,447.5 716.1,445.2 716.4,452.0 716.7,443.3 717.1,435.1 717.4,443.3 717.7,445.8 718.1,446.2 718.4,445.0 718.7,441.4 719.1,450.7 719.4,442.2 719.7,447.6 720.1,443.7 720.4,440.0 720.7,450.4 721.1,434.9 721.4,441.4 721.7,446.7 722.1,443.5 722.4,439.4 722.7,444.5 723.1,443.1 723.4,453.6 723.7,444.0 724.1,444.4 724.4,440.7 724.7,442.1 725.1,447.6 725.4,447.4 725.7,445.1 726.1,442.3 726.4,457.9 726.7,438.3 727.1,443.8 727.4,444.1 727.7,441.8 728.1,445.9 728.4,442.6 728.7,442.0 729.1,452.5 729.4,448.4 729.7,450.1 730.1,445.6 730.4,449.2 730.7,448.4 731.1,450.3 731.4,454.9 731.7,444.6 732.1,446.5 732.4,445.2 732.7,431.4 733.1,439.9 733.4,445.6" fill="none" stroke="#f6a216" stroke-width="1.6" stroke-linejoin="round" stroke-linecap="round"/>
<polygon points="384.8,181 391.4,192.4 384.8,203.8 378.2,192.4" fill="#24e024" stroke="#1a6a1a" stroke-width="1"/>
<line x1="335" y1="294" x2="350" y2="294" stroke="#111" stroke-width="1.1"/><polygon points="355,294 348.5,290.8 348.5,297.2" fill="#111"/>
<line x1="417" y1="294" x2="432.5" y2="294" stroke="#111" stroke-width="1.1"/><polygon points="412.2,294 418.7,290.8 418.7,297.2" fill="#111"/>
<rect x="735.6" y="0" width="4.3" height="545.5" fill="#eeeee0"/>
<rect x="739.9" y="0" width="1.05" height="545.5" fill="#2e2e2e"/>
<rect x="0" y="544.7" width="741" height="1.1" fill="#9a9a9a"/>
<rect x="22.8" y="545.5" width="1.1" height="24" fill="#b0b0b0"/>
<rect x="553.8" y="545.5" width="1.1" height="24" fill="#b0b0b0"/>
<rect x="594.8" y="545.5" width="1.1" height="24" fill="#b0b0b0"/>
<path d="M537.6,552.3 h3.2 l4.6,-4 v15.2 l-4.6,-3.6 h-3.2 z" fill="#e8ecec" stroke="#2c4048" stroke-width="1.2" stroke-linejoin="round"/>
<line x1="540.8" y1="552.5" x2="540.8" y2="559.8" stroke="#2c4048" stroke-width="1"/>
<circle cx="548.4" cy="560.2" r="4.6" fill="#f6d9a0" stroke="#e02030" stroke-width="1.9"/>
<line x1="545.2" y1="563.2" x2="551.6" y2="557.2" stroke="#e02030" stroke-width="1.9"/>
<line x1="855.93" y1="142.8" x2="855.93" y2="520.7" stroke="#242424" stroke-width="1.5" stroke-dasharray="2.55 3.08" stroke-dashoffset="0"/>
<line x1="801.2" y1="180.30" x2="1368.7" y2="180.30" stroke="#242424" stroke-width="1.55" stroke-dasharray="2.55 3.147" stroke-dashoffset="0"/>
<line x1="912.90" y1="142.8" x2="912.90" y2="520.7" stroke="#242424" stroke-width="1.5" stroke-dasharray="2.55 3.08" stroke-dashoffset="0"/>
<line x1="801.2" y1="218.07" x2="1368.7" y2="218.07" stroke="#242424" stroke-width="1.55" stroke-dasharray="2.55 3.147" stroke-dashoffset="0"/>
<line x1="969.88" y1="142.8" x2="969.88" y2="520.7" stroke="#242424" stroke-width="1.5" stroke-dasharray="2.55 3.08" stroke-dashoffset="0"/>
<line x1="801.2" y1="255.84" x2="1368.7" y2="255.84" stroke="#242424" stroke-width="1.55" stroke-dasharray="2.55 3.147" stroke-dashoffset="0"/>
<line x1="1026.85" y1="142.8" x2="1026.85" y2="520.7" stroke="#242424" stroke-width="1.5" stroke-dasharray="2.55 3.08" stroke-dashoffset="0"/>
<line x1="801.2" y1="293.61" x2="1368.7" y2="293.61" stroke="#242424" stroke-width="1.55" stroke-dasharray="2.55 3.147" stroke-dashoffset="0"/>
<line x1="1083.83" y1="142.8" x2="1083.83" y2="520.7" stroke="#242424" stroke-width="1.5" stroke-dasharray="2.55 3.08" stroke-dashoffset="0"/>
<line x1="801.2" y1="331.38" x2="1368.7" y2="331.38" stroke="#242424" stroke-width="1.55" stroke-dasharray="2.55 3.147" stroke-dashoffset="0"/>
<line x1="1140.80" y1="142.8" x2="1140.80" y2="520.7" stroke="#242424" stroke-width="1.5" stroke-dasharray="2.55 3.08" stroke-dashoffset="0"/>
<line x1="801.2" y1="369.15" x2="1368.7" y2="369.15" stroke="#242424" stroke-width="1.55" stroke-dasharray="2.55 3.147" stroke-dashoffset="0"/>
<line x1="1197.78" y1="142.8" x2="1197.78" y2="520.7" stroke="#242424" stroke-width="1.5" stroke-dasharray="2.55 3.08" stroke-dashoffset="0"/>
<line x1="801.2" y1="406.92" x2="1368.7" y2="406.92" stroke="#242424" stroke-width="1.55" stroke-dasharray="2.55 3.147" stroke-dashoffset="0"/>
<line x1="1254.75" y1="142.8" x2="1254.75" y2="520.7" stroke="#242424" stroke-width="1.5" stroke-dasharray="2.55 3.08" stroke-dashoffset="0"/>
<line x1="801.2" y1="444.69" x2="1368.7" y2="444.69" stroke="#242424" stroke-width="1.55" stroke-dasharray="2.55 3.147" stroke-dashoffset="0"/>
<line x1="1311.72" y1="142.8" x2="1311.72" y2="520.7" stroke="#242424" stroke-width="1.5" stroke-dasharray="2.55 3.08" stroke-dashoffset="0"/>
<line x1="801.2" y1="482.46" x2="1368.7" y2="482.46" stroke="#242424" stroke-width="1.55" stroke-dasharray="2.55 3.147" stroke-dashoffset="0"/>
<rect x="797.9" y="141.2" width="571.9" height="380.3" fill="none" stroke="#111" stroke-width="2"/>
<rect x="1083" y="521.5" width="1.2" height="3" fill="#111"/>
<rect x="1368.9" y="521.5" width="1.7" height="3.6" fill="#111"/>
<rect x="797.1" y="521.5" width="1.7" height="3.0" fill="#111"/>
<polyline points="799.5,420.8 830,420.6 832,420.2 900,420.3 920,420.0 930,420.5 1000,420.6 1020,421.0 1040,420.8 1055,420.3 1062,420.1 1065.9,419.8 1068.5,418.8 1070.1,417.4 1072,415.4 1073.2,413.4 1074.3,407.4 1075.1,401 1075.4,380 1075.6,369 1075.9,290 1076.2,262 1076.5,259 1076.6,230 1077.2,193 1078.6,193 1079.2,230 1079.3,259 1079.6,262 1079.8,290 1080.3,369 1080.6,380 1081.2,392.7 1082.7,403.2 1084.3,413.8 1085.5,416.8 1087,418.5 1090,419.5 1093.3,419.9 1100,420.2 1109,420.8 1119,420.9 1160,421.0 1200,421.2 1231,421.5 1250,421.7 1252,422.1 1290,422.7 1310,423.0 1312,423.5 1340,424.0 1368,424.6" fill="none" stroke="#4a80b9" stroke-width="1.3" stroke-linejoin="round"/>
<polygon points="1076.1,260 1076.1,194.5 1077.3,191.9 1078.5,191.9 1079.7,194.5 1079.7,260 1078.6,263 1077.2,263" fill="#6d9dca"/>
<polygon points="1074.1,184.8 1081.3,184.8 1077.7,191.9" fill="#e01818"/>
<rect x="756.7" y="18.3" width="530.3" height="69.6" fill="none" stroke="#141414" stroke-width="1.35"/>
<rect x="1292.8" y="18.3" width="120.2" height="69.6" fill="none" stroke="#141414" stroke-width="1.35"/>
<rect x="756.7" y="91.4" width="613.6" height="23.2" fill="none" stroke="#141414" stroke-width="1.35"/>
<rect x="797.3" y="124.6" width="33.7" height="13.0" rx="1.5" fill="#fff" stroke="#141414" stroke-width="1.2"/>
<path d="M798.3,137.2 H830.6 V125.6" fill="none" stroke="#141414" stroke-width="2"/>
<rect x="955.5" y="124.6" width="41.5" height="13.0" rx="1.5" fill="#fff" stroke="#141414" stroke-width="1.2"/>
<path d="M956.5,137.2 H996.6 V125.6" fill="none" stroke="#141414" stroke-width="2"/>
<rect x="1070.4" y="124.6" width="79.2" height="13.0" rx="1.5" fill="#fff" stroke="#141414" stroke-width="1.2"/>
<path d="M1071.4,137.2 H1149.2 V125.6" fill="none" stroke="#141414" stroke-width="2"/>
<rect x="1195.4" y="124.6" width="26.4" height="13.0" rx="1.5" fill="#fff" stroke="#141414" stroke-width="1.2"/>
<path d="M1196.4,137.2 H1221.4 V125.6" fill="none" stroke="#141414" stroke-width="2"/>
<rect x="1275.4" y="124.6" width="94.4" height="13.0" rx="1.5" fill="#fff" stroke="#141414" stroke-width="1.2"/>
<path d="M1276.4,137.2 H1369.4 V125.6" fill="none" stroke="#141414" stroke-width="2"/>
<rect x="756.5" y="211.0" width="37.9" height="13.8" rx="1.5" fill="#fff" stroke="#141414" stroke-width="1.2"/>
<path d="M757.5,224.4 H794.0 V212.0" fill="none" stroke="#141414" stroke-width="2"/>
<rect x="765.7" y="528.7" width="64.8" height="13.9" rx="1.5" fill="#fff" stroke="#141414" stroke-width="1.2"/>
<path d="M766.7,542.2 H830.1 V529.7" fill="none" stroke="#141414" stroke-width="2"/>
<rect x="1054.5" y="528.7" width="63.9" height="13.9" rx="1.5" fill="#fff" stroke="#141414" stroke-width="1.2"/>
<path d="M1055.5,542.2 H1118.0 V529.7" fill="none" stroke="#141414" stroke-width="2"/>
<rect x="1190.4" y="528.7" width="49.7" height="13.9" rx="1.5" fill="#fff" stroke="#141414" stroke-width="1.2"/>
<path d="M1191.4,542.2 H1239.7 V529.7" fill="none" stroke="#141414" stroke-width="2"/>
<rect x="1327.5" y="528.7" width="63.9" height="13.9" rx="1.5" fill="#fff" stroke="#141414" stroke-width="1.2"/>
<path d="M1328.5,542.2 H1391.0 V529.7" fill="none" stroke="#141414" stroke-width="2"/>
<rect x="1295.8" y="21" width="115" height="8.1" fill="#1446e6"/>
<polygon points="832,3.2 838,9 832,14.8 826,9" fill="#000"/>
<rect x="864.0" y="546.4" width="26.4" height="19.2" fill="#fff" stroke="#3a3a3a" stroke-width="1.2"/>
<rect x="865.2" y="547.6" width="24" height="16.8" fill="none" stroke="#bdbdbd" stroke-width="0.9"/>
<rect x="893.4" y="546.4" width="26.4" height="19.2" fill="#fff" stroke="#3a3a3a" stroke-width="1.2"/>
<rect x="894.6" y="547.6" width="24" height="16.8" fill="none" stroke="#bdbdbd" stroke-width="0.9"/>
<rect x="922.8" y="546.4" width="26.4" height="19.2" fill="#fff" stroke="#3a3a3a" stroke-width="1.2"/>
<rect x="924.0" y="547.6" width="24" height="16.8" fill="none" stroke="#bdbdbd" stroke-width="0.9"/>
<rect x="952.2" y="546.4" width="26.4" height="19.2" fill="#fff" stroke="#3a3a3a" stroke-width="1.2"/>
<rect x="953.4" y="547.6" width="24" height="16.8" fill="none" stroke="#bdbdbd" stroke-width="0.9"/>
<rect x="981.6" y="546.4" width="26.4" height="19.2" fill="#0a0a0a" stroke="#0a0a0a" stroke-width="1.2"/>
<rect x="1011.0" y="546.4" width="26.4" height="19.2" fill="#fff" stroke="#3a3a3a" stroke-width="1.2"/>
<rect x="1012.2" y="547.6" width="24" height="16.8" fill="none" stroke="#bdbdbd" stroke-width="0.9"/>
<rect x="1040.5" y="546.4" width="26.4" height="19.2" fill="#0a0a0a" stroke="#0a0a0a" stroke-width="1.2"/>
<rect x="1069.9" y="546.4" width="26.4" height="19.2" fill="#0a0a0a" stroke="#0a0a0a" stroke-width="1.2"/>
<rect x="1099.3" y="546.4" width="26.4" height="19.2" fill="#fff" stroke="#3a3a3a" stroke-width="1.2"/>
<rect x="1100.5" y="547.6" width="24" height="16.8" fill="none" stroke="#bdbdbd" stroke-width="0.9"/>
<rect x="1128.7" y="546.4" width="26.4" height="19.2" fill="#0a0a0a" stroke="#0a0a0a" stroke-width="1.2"/>
<rect x="1158.1" y="546.4" width="26.4" height="19.2" fill="#fff" stroke="#3a3a3a" stroke-width="1.2"/>
<rect x="1159.3" y="547.6" width="24" height="16.8" fill="none" stroke="#bdbdbd" stroke-width="0.9"/>
<rect x="1187.5" y="546.4" width="26.4" height="19.2" fill="#fff" stroke="#3a3a3a" stroke-width="1.2"/>
<rect x="1188.7" y="547.6" width="24" height="16.8" fill="none" stroke="#bdbdbd" stroke-width="0.9"/>
<rect x="1216.9" y="546.4" width="26.4" height="19.2" fill="#fff" stroke="#3a3a3a" stroke-width="1.2"/>
<rect x="1218.1" y="547.6" width="24" height="16.8" fill="none" stroke="#bdbdbd" stroke-width="0.9"/>
<rect x="1246.3" y="546.4" width="26.4" height="19.2" fill="#fff" stroke="#3a3a3a" stroke-width="1.2"/>
<rect x="1247.5" y="547.6" width="24" height="16.8" fill="none" stroke="#bdbdbd" stroke-width="0.9"/>
<rect x="1275.7" y="546.4" width="26.4" height="19.2" fill="#fff" stroke="#3a3a3a" stroke-width="1.2"/>
<rect x="1276.9" y="547.6" width="24" height="16.8" fill="none" stroke="#bdbdbd" stroke-width="0.9"/>
<rect x="1310.0" y="546.4" width="31" height="19.2" fill="#fff" stroke="#3a3a3a" stroke-width="1.2"/>
<rect x="1344.1" y="546.4" width="31" height="19.2" fill="#fff" stroke="#3a3a3a" stroke-width="1.2"/>
<rect x="1378.2" y="546.4" width="31" height="19.2" fill="#0a0a0a" stroke="#0a0a0a" stroke-width="1.2"/>
<line x1="845.2" y1="12.7" x2="851.5" y2="6.4" stroke="#1e1e1e" stroke-width="1.05"/>
<line x1="852.8" y1="12.7" x2="859.1" y2="6.4" stroke="#1e1e1e" stroke-width="1.05"/>
<line x1="1125.9" y1="12.7" x2="1132.2" y2="6.4" stroke="#1e1e1e" stroke-width="1.05"/>
<line x1="1133.5" y1="12.7" x2="1139.8" y2="6.4" stroke="#1e1e1e" stroke-width="1.05"/>
<path d="M799.1,20.9 h5.8 l-2.90,8.7 z" fill="none" stroke="#3c3c3c" stroke-width="0.95" stroke-linejoin="miter"/>
<path d="M800.1,21.5 l2.00,6.10" fill="none" stroke="#555" stroke-width="0.8"/>
<path d="M1064.1,20.9 h5.8 l-2.90,8.7 z" fill="none" stroke="#3c3c3c" stroke-width="0.95" stroke-linejoin="miter"/>
<path d="M1065.1,21.5 l2.00,6.10" fill="none" stroke="#555" stroke-width="0.8"/>
<path d="M1079.2,20.9 h5.8 l-2.90,8.7 z" fill="none" stroke="#3c3c3c" stroke-width="0.95" stroke-linejoin="miter"/>
<path d="M1080.2,21.5 l2.00,6.10" fill="none" stroke="#555" stroke-width="0.8"/>
<path d="M799.1,32.0 h5.8 l-2.90,8.7 z" fill="none" stroke="#3c3c3c" stroke-width="0.95" stroke-linejoin="miter"/>
<path d="M800.1,32.6 l2.00,6.10" fill="none" stroke="#555" stroke-width="0.8"/>
<path d="M799.1,43.2 h5.8 l-2.90,8.7 z" fill="none" stroke="#3c3c3c" stroke-width="0.95" stroke-linejoin="miter"/>
<path d="M800.1,43.8 l2.00,6.10" fill="none" stroke="#555" stroke-width="0.8"/>
<path d="M799.1,54.3 h5.8 l-2.90,8.7 z" fill="none" stroke="#3c3c3c" stroke-width="0.95" stroke-linejoin="miter"/>
<path d="M800.1,54.9 l2.00,6.10" fill="none" stroke="#555" stroke-width="0.8"/>
<path d="M799.1,65.5 h5.8 l-2.90,8.7 z" fill="none" stroke="#3c3c3c" stroke-width="0.95" stroke-linejoin="miter"/>
<path d="M800.1,66.1 l2.00,6.10" fill="none" stroke="#555" stroke-width="0.8"/>
<path d="M799.1,76.7 h5.8 l-2.90,8.7 z" fill="none" stroke="#3c3c3c" stroke-width="0.95" stroke-linejoin="miter"/>
<path d="M800.1,77.3 l2.00,6.10" fill="none" stroke="#555" stroke-width="0.8"/>
<rect x="800" y="212" width="23.5" height="11" fill="#fff"/>
<text xml:space="preserve" transform="translate(865.70,555.60) scale(1.2831,1.0020)" fill="#1e1e1e" font-weight="normal" >RES</text>
<text xml:space="preserve" transform="translate(865.70,563.80) scale(1.2831,1.0020)" fill="#1e1e1e" font-weight="normal" >COR</text>
<text xml:space="preserve" transform="translate(895.11,555.60) scale(1.2831,1.0020)" fill="#1e1e1e" font-weight="normal" >LVL</text>
<text xml:space="preserve" transform="translate(895.11,563.80) scale(1.2831,1.0020)" fill="#1e1e1e" font-weight="normal" >SHF</text>
<text xml:space="preserve" transform="translate(924.52,555.60) scale(1.2831,1.0020)" fill="#1e1e1e" font-weight="normal" >WL</text>
<text xml:space="preserve" transform="translate(924.52,563.80) scale(1.2831,1.0020)" fill="#1e1e1e" font-weight="normal" >SHF</text>
<text xml:space="preserve" transform="translate(953.93,555.60) scale(1.2831,1.0020)" fill="#1e1e1e" font-weight="normal" >NOI</text>
<text xml:space="preserve" transform="translate(953.93,563.80) scale(1.2831,1.0020)" fill="#1e1e1e" font-weight="normal" >MSK</text>
<text xml:space="preserve" transform="translate(983.34,555.60) scale(1.2831,1.0020)" fill="#f4f4f4" font-weight="normal" >SRC</text>
<text xml:space="preserve" transform="translate(983.34,563.80) scale(1.2831,1.0020)" fill="#f4f4f4" font-weight="normal" >ZOM</text>
<text xml:space="preserve" transform="translate(1012.75,555.60) scale(1.2831,1.0020)" fill="#1e1e1e" font-weight="normal" >SRC</text>
<text xml:space="preserve" transform="translate(1012.75,563.80) scale(1.2831,1.0020)" fill="#1e1e1e" font-weight="normal" >1-2</text>
<text xml:space="preserve" transform="translate(1042.16,555.60) scale(1.2831,1.0020)" fill="#f4f4f4" font-weight="normal" >VAC</text>
<text xml:space="preserve" transform="translate(1042.16,563.80) scale(1.2831,1.0020)" fill="#f4f4f4" font-weight="normal" >WL</text>
<text xml:space="preserve" transform="translate(1071.57,555.60) scale(1.2831,1.0020)" fill="#f4f4f4" font-weight="normal" >AUT</text>
<text xml:space="preserve" transform="translate(1071.57,563.80) scale(1.2831,1.0020)" fill="#f4f4f4" font-weight="normal" >OFS</text>
<text xml:space="preserve" transform="translate(1100.98,555.60) scale(1.2831,1.0020)" fill="#1e1e1e" font-weight="normal" >AUT</text>
<text xml:space="preserve" transform="translate(1100.98,563.80) scale(1.2831,1.0020)" fill="#1e1e1e" font-weight="normal" >ANA</text>
<text xml:space="preserve" transform="translate(1130.39,555.60) scale(1.2831,1.0020)" fill="#f4f4f4" font-weight="normal" >AUT</text>
<text xml:space="preserve" transform="translate(1130.39,563.80) scale(1.2831,1.0020)" fill="#f4f4f4" font-weight="normal" >SRC</text>
<text xml:space="preserve" transform="translate(1159.80,555.60) scale(1.2831,1.0020)" fill="#1e1e1e" font-weight="normal" >AUT</text>
<text xml:space="preserve" transform="translate(1159.80,563.80) scale(1.2831,1.0020)" fill="#1e1e1e" font-weight="normal" >SCL</text>
<text xml:space="preserve" transform="translate(1189.21,555.60) scale(1.2831,1.0020)" fill="#1e1e1e" font-weight="normal" >AUT</text>
<text xml:space="preserve" transform="translate(1189.21,563.80) scale(1.2831,1.0020)" fill="#1e1e1e" font-weight="normal" >REF</text>
<text xml:space="preserve" transform="translate(1218.62,555.60) scale(1.2831,1.0020)" fill="#1e1e1e" font-weight="normal" >AUT</text>
<text xml:space="preserve" transform="translate(1218.62,563.80) scale(1.2831,1.0020)" fill="#1e1e1e" font-weight="normal" >CTR</text>
<text xml:space="preserve" transform="translate(1248.03,555.60) scale(1.2831,1.0020)" fill="#1e1e1e" font-weight="normal" >SWP</text>
<text xml:space="preserve" transform="translate(1248.03,563.80) scale(1.2831,1.0020)" fill="#1e1e1e" font-weight="normal" >1-2</text>
<text xml:space="preserve" transform="translate(1277.44,555.60) scale(1.2831,1.0020)" fill="#1e1e1e" font-weight="normal" >SMO</text>
<text xml:space="preserve" transform="translate(1277.44,563.80) scale(1.2831,1.0020)" fill="#1e1e1e" font-weight="normal" >OTH</text>
<text xml:space="preserve" transform="translate(1314.40,559.20) scale(1.2498,1.0627)" fill="#1e1e1e" font-weight="normal" >RPT</text>
<text xml:space="preserve" transform="translate(1348.50,559.20) scale(1.2498,1.0627)" fill="#1e1e1e" font-weight="normal" >SGL</text>
<text xml:space="preserve" transform="translate(1382.60,559.20) scale(1.2498,1.0627)" fill="#f4f4f4" font-weight="normal" >STP</text>
<text xml:space="preserve" transform="translate(866.91,14.00) scale(1.2614,1.5030)" fill="#1e1e1e" font-weight="normal" >AQ6370D OPTICAL SPECTRUM ANALYZER</text>
<text xml:space="preserve" transform="translate(1283.20,14.00) scale(1.2614,1.5030)" fill="#1e1e1e" font-weight="normal" >2024 Nov 28 13:04</text>
<text xml:space="preserve" transform="translate(760.50,30.20) scale(1.2614,1.4574)" fill="#3a3a3a" font-weight="normal" >TR A</text>
<text xml:space="preserve" transform="translate(805.42,30.20) scale(1.2614,1.4574)" fill="#3a3a3a" font-weight="normal" >PK</text>
<text xml:space="preserve" transform="translate(836.00,30.20) scale(1.2614,1.4574)" fill="#1e1e1e" font-weight="normal" >:1063.5000nm</text>
<text xml:space="preserve" transform="translate(964.69,30.20) scale(1.2614,1.4574)" fill="#1e1e1e" font-weight="normal" >6.48dBm</text>
<text xml:space="preserve" transform="translate(1070.67,30.20) scale(1.2614,1.4574)" fill="#1e1e1e" font-weight="normal" >-</text>
<text xml:space="preserve" transform="translate(1085.81,30.20) scale(1.2614,1.4574)" fill="#1e1e1e" font-weight="normal" >n:</text>
<text xml:space="preserve" transform="translate(805.72,41.30) scale(1.2614,1.4574)" fill="#1e1e1e" font-weight="normal" >0001:</text>
<text xml:space="preserve" transform="translate(805.72,52.50) scale(1.2614,1.4574)" fill="#1e1e1e" font-weight="normal" >0002:</text>
<text xml:space="preserve" transform="translate(805.72,63.60) scale(1.2614,1.4574)" fill="#1e1e1e" font-weight="normal" >0003:</text>
<text xml:space="preserve" transform="translate(805.72,74.80) scale(1.2614,1.4574)" fill="#1e1e1e" font-weight="normal" >0004:</text>
<text xml:space="preserve" transform="translate(805.72,86.00) scale(1.2614,1.4574)" fill="#1e1e1e" font-weight="normal" >0005:</text>
<text xml:space="preserve" transform="translate(1296.20,28.20) scale(1.2498,1.0172)" fill="#ffffff" font-weight="normal" >A:WRITE</text>
<text xml:space="preserve" transform="translate(1379.47,28.20) scale(1.2498,1.0172)" fill="#ffffff" font-weight="normal" >/DSP</text>
<text xml:space="preserve" transform="translate(1296.20,37.70) scale(1.2498,1.0172)" fill="#b86464" font-weight="normal" >B:FIX</text>
<text xml:space="preserve" transform="translate(1379.47,37.70) scale(1.2498,1.0172)" fill="#b86464" font-weight="normal" >/BLK</text>
<text xml:space="preserve" transform="translate(1296.20,47.20) scale(1.2498,1.0172)" fill="#8aa456" font-weight="normal" >C:WRITE</text>
<text xml:space="preserve" transform="translate(1379.47,47.20) scale(1.2498,1.0172)" fill="#8aa456" font-weight="normal" >/BLK</text>
<text xml:space="preserve" transform="translate(1296.20,56.70) scale(1.2498,1.0172)" fill="#74747e" font-weight="normal" >D:FIX</text>
<text xml:space="preserve" transform="translate(1379.47,56.70) scale(1.2498,1.0172)" fill="#74747e" font-weight="normal" >/BLK</text>
<text xml:space="preserve" transform="translate(1296.20,66.20) scale(1.2498,1.0172)" fill="#4a98ba" font-weight="normal" >E:FIX</text>
<text xml:space="preserve" transform="translate(1379.47,66.20) scale(1.2498,1.0172)" fill="#4a98ba" font-weight="normal" >/BLK</text>
<text xml:space="preserve" transform="translate(1296.20,75.70) scale(1.2498,1.0172)" fill="#e2824c" font-weight="normal" >F:FIX</text>
<text xml:space="preserve" transform="translate(1379.47,75.70) scale(1.2498,1.0172)" fill="#e2824c" font-weight="normal" >/BLK</text>
<text xml:space="preserve" transform="translate(1296.20,85.20) scale(1.2498,1.0172)" fill="#889eae" font-weight="normal" >G:FIX</text>
<text xml:space="preserve" transform="translate(1379.47,85.20) scale(1.2498,1.0172)" fill="#889eae" font-weight="normal" >/BLK</text>
<text xml:space="preserve" transform="translate(760.00,100.30) scale(1.2414,1.0020)" fill="#1e1e1e" font-weight="normal" >&lt;MEAS CONDITION&gt;</text>
<text xml:space="preserve" transform="translate(758.30,112.80) scale(1.2414,0.9868)" fill="#1e1e1e" font-weight="normal" >START:</text>
<text xml:space="preserve" transform="translate(803.60,112.80) scale(1.2614,1.5485)" fill="#1e1e1e" font-weight="normal" >1039.000nm</text>
<text xml:space="preserve" transform="translate(917.80,112.80) scale(1.2414,0.9868)" fill="#1e1e1e" font-weight="normal" >STOP:</text>
<text xml:space="preserve" transform="translate(955.40,112.80) scale(1.2614,1.5485)" fill="#1e1e1e" font-weight="normal" >1089.000nm</text>
<text xml:space="preserve" transform="translate(1061.60,112.80) scale(1.2414,0.9868)" fill="#1e1e1e" font-weight="normal" >CENTER:</text>
<text xml:space="preserve" transform="translate(1114.80,112.80) scale(1.2614,1.5485)" fill="#1e1e1e" font-weight="normal" >1064.000nm</text>
<text xml:space="preserve" transform="translate(1221.00,112.80) scale(1.2414,0.9868)" fill="#1e1e1e" font-weight="normal" >SPAN:</text>
<text xml:space="preserve" transform="translate(1273.60,112.80) scale(1.2614,1.5485)" fill="#1e1e1e" font-weight="normal" >50.0nm</text>
<text xml:space="preserve" transform="translate(798.60,136.00) scale(1.2614,1.4574)" fill="#1e1e1e" font-weight="normal" >10.0</text>
<text xml:space="preserve" transform="translate(833.40,136.00) scale(1.2414,0.9412)" fill="#1e1e1e" font-weight="normal" >dB/D</text>
<text xml:space="preserve" transform="translate(924.20,136.00) scale(1.2414,0.9412)" fill="#1e1e1e" font-weight="normal" >RES:</text>
<text xml:space="preserve" transform="translate(972.20,136.00) scale(1.2614,1.4574)" fill="#1e1e1e" font-weight="normal" >0.1</text>
<text xml:space="preserve" transform="translate(999.20,136.00) scale(1.2414,0.9412)" fill="#1e1e1e" font-weight="normal" >nm</text>
<text xml:space="preserve" transform="translate(1031.60,136.00) scale(1.2414,0.9412)" fill="#1e1e1e" font-weight="normal" >SENS:</text>
<text xml:space="preserve" transform="translate(1071.80,136.00) scale(1.2614,1.4574)" fill="#1e1e1e" font-weight="normal" >MID</text>
<text xml:space="preserve" transform="translate(1164.80,136.00) scale(1.2414,0.9412)" fill="#1e1e1e" font-weight="normal" >AVG:</text>
<text xml:space="preserve" transform="translate(1213.40,136.00) scale(1.2614,1.4574)" fill="#1e1e1e" font-weight="normal" >1</text>
<text xml:space="preserve" transform="translate(1236.40,136.00) scale(1.2414,0.9412)" fill="#1e1e1e" font-weight="normal" >SMPL:</text>
<text xml:space="preserve" transform="translate(1292.00,136.00) scale(1.2614,1.4574)" fill="#1e1e1e" font-weight="normal" >2501</text>
<text xml:space="preserve" transform="translate(1321.28,136.00) scale(1.2264,1.4574)" fill="#1e1e1e" font-weight="normal" >(AUTO)</text>
<text xml:space="preserve" transform="translate(771.20,147.20) scale(0.9748,1.4574)" fill="#222" font-weight="bold" >20.0</text>
<text xml:space="preserve" transform="translate(775.65,222.60) scale(0.9748,1.4574)" fill="#222" font-weight="bold" >0.0</text>
<text xml:space="preserve" transform="translate(765.35,298.41) scale(0.9748,1.4574)" fill="#222" font-weight="bold" >-20.0</text>
<text xml:space="preserve" transform="translate(765.35,373.95) scale(0.9748,1.4574)" fill="#222" font-weight="bold" >-40.0</text>
<text xml:space="preserve" transform="translate(765.35,449.49) scale(0.9748,1.4574)" fill="#222" font-weight="bold" >-60.0</text>
<text xml:space="preserve" transform="translate(765.35,525.30) scale(0.9748,1.4574)" fill="#222" font-weight="bold" >-80.0</text>
<text xml:space="preserve" transform="translate(800.00,221.00) scale(1.2414,0.9716)" fill="#1e1e1e" font-weight="normal" >REF</text>
<text xml:space="preserve" transform="translate(771.80,233.70) scale(1.2414,0.9109)" fill="#1e1e1e" font-weight="normal" >dBm</text>
<text xml:space="preserve" transform="translate(767.80,540.40) scale(1.2614,1.5030)" fill="#1e1e1e" font-weight="normal" >1039.000</text>
<text xml:space="preserve" transform="translate(832.60,540.40) scale(1.2414,0.9109)" fill="#1e1e1e" font-weight="normal" >nm</text>
<text xml:space="preserve" transform="translate(1056.40,540.40) scale(1.2614,1.5030)" fill="#1e1e1e" font-weight="normal" >1064.000</text>
<text xml:space="preserve" transform="translate(1120.60,540.40) scale(1.2414,0.9109)" fill="#1e1e1e" font-weight="normal" >nm</text>
<text xml:space="preserve" transform="translate(1207.00,540.40) scale(1.2614,1.5030)" fill="#1e1e1e" font-weight="normal" >5.00</text>
<text xml:space="preserve" transform="translate(1241.80,540.40) scale(1.2414,0.9109)" fill="#1e1e1e" font-weight="normal" >nm/D</text>
<text xml:space="preserve" transform="translate(1329.60,540.40) scale(1.2614,1.5030)" fill="#1e1e1e" font-weight="normal" >1089.000</text>
<text xml:space="preserve" transform="translate(1393.80,540.40) scale(1.2414,0.9109)" fill="#1e1e1e" font-weight="normal" >nm</text>
</svg>
<div class="t" style="left:1px;top:30.4px;font-size:14.4px;color:#858585;">10 dB/div</div>
<div class="t" style="left:0.8px;top:41.6px;font-size:14.2px;color:#858585;font-weight:bold;">Log</div>
<div class="t" style="left:85.6px;top:29.1px;font-size:16.55px;font-weight:bold;color:#000;">Ref -20.00 dBm</div>
<div class="t" style="right:684.6px;top:1.4px;font-size:20.4px;font-weight:bold;color:#2ae02a;">Mkr1 80.010 MHz</div>
<div class="t" style="right:684.6px;top:21.2px;font-size:20.25px;font-weight:bold;color:#2ae02a;">-54.26 dBm</div>
<div class="t" style="left:0;width:27.8px;text-align:right;top:88.7px;font-size:11.5px;color:#949494;transform:scaleX(0.91);transform-origin:100% 50%;">-30.0</div>
<div class="t" style="left:0;width:27.8px;text-align:right;top:133.7px;font-size:11.5px;color:#949494;transform:scaleX(0.91);transform-origin:100% 50%;">-40.0</div>
<div class="t" style="left:0;width:27.8px;text-align:right;top:178.7px;font-size:11.5px;color:#949494;transform:scaleX(0.91);transform-origin:100% 50%;">-50.0</div>
<div class="t" style="left:0;width:27.8px;text-align:right;top:223.7px;font-size:11.5px;color:#949494;transform:scaleX(0.91);transform-origin:100% 50%;">-60.0</div>
<div class="t" style="left:0;width:27.8px;text-align:right;top:268.7px;font-size:11.5px;color:#949494;transform:scaleX(0.91);transform-origin:100% 50%;">-70.0</div>
<div class="t" style="left:0;width:27.8px;text-align:right;top:313.7px;font-size:11.5px;color:#949494;transform:scaleX(0.91);transform-origin:100% 50%;">-80.0</div>
<div class="t" style="left:0;width:27.8px;text-align:right;top:358.7px;font-size:11.5px;color:#949494;transform:scaleX(0.91);transform-origin:100% 50%;">-90.0</div>
<div class="t" style="left:0;width:27.8px;text-align:right;top:403.7px;font-size:11.5px;color:#949494;transform:scaleX(0.91);transform-origin:100% 50%;">-100</div>
<div class="t" style="left:0;width:27.8px;text-align:right;top:448.7px;font-size:11.5px;color:#949494;transform:scaleX(0.91);transform-origin:100% 50%;">-110</div>
<div class="t" style="left:393.6px;top:173.8px;font-size:14.2px;font-weight:bold;color:#f6a930;">1</div>
<div class="t" style="left:421px;top:274.2px;font-size:16.7px;font-weight:bold;color:#2ae02a;">-20.00 dB</div>
<div class="t" style="left:425px;top:295.6px;font-size:16.7px;font-weight:bold;color:#2ae02a;">377 kHz</div>
<div class="t" style="left:0.5px;top:502.6px;font-size:16.6px;font-weight:bold;color:#000;">Center 80.000 MHz</div>
<div class="t" style="left:0px;top:521.5px;font-size:16.6px;font-weight:bold;color:#000;">#Res BW 10 kHz</div>
<div class="t" style="left:266.3px;top:521.5px;font-size:16.6px;font-weight:bold;color:#000;">#VBW 100 Hz</div>
<div class="t" style="right:685px;top:502.6px;font-size:16.6px;font-weight:bold;color:#000;">Span 5.000 MHz</div>
<div class="t" style="right:685px;top:521.5px;font-size:16.6px;font-weight:bold;color:#000;white-space:pre;">Sweep  3.899 s (1001 pts)</div>
<div class="t" style="left:0px;top:551.3px;font-size:9.2px;color:#444;">MSG</div>
<div class="t" style="left:556px;top:551.4px;font-size:9.3px;font-weight:bold;color:#606060;">STATUS</div>
<div class="t" style="left:756.3px;top:1.8px;font-size:13.2px;font-weight:bold;color:#000;letter-spacing:-1.75px;">YOKOGAWA</div>
</body></html>
